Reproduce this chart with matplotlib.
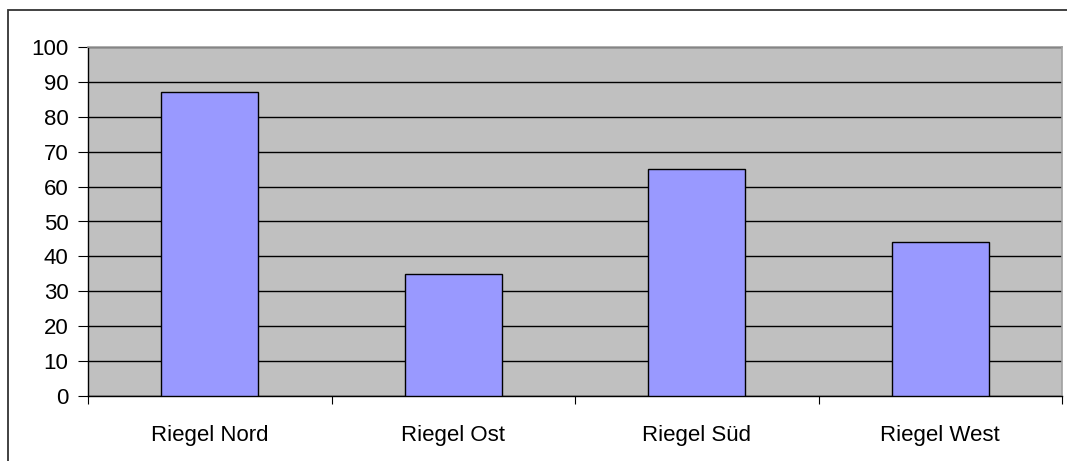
import matplotlib.pyplot as plt
from matplotlib.patches import Rectangle

plt.rcParams['font.family'] = ['Liberation Sans', 'DejaVu Sans']

categories = ["Riegel Nord", "Riegel Ost", "Riegel Süd", "Riegel West"]
values = [87, 35, 65, 44]
y_ticks = [0, 10, 20, 30, 40, 50, 60, 70, 80, 90, 100]

fig = plt.figure(figsize=(10.67, 4.61), dpi=100)
ax = fig.add_axes([88 / 1067, 65 / 461, 974 / 1067, 349 / 461])

# chart frame, runs off the right and bottom edges
fig.patches.append(Rectangle((7.5 / 1067, -0.1), 1.2, 1 - 10.5 / 461 + 0.1,
                             transform=fig.transFigure, fill=False,
                             edgecolor="#333333", linewidth=1.3, zorder=0))

ax.set_facecolor("#C0C0C0")
positions = list(range(len(categories)))
ax.bar(positions, values, width=0.4, color="#9999FF", edgecolor="black",
       linewidth=1, zorder=3)

ax.set_ylim(0, 100)
ax.set_xlim(-0.5, len(categories) - 0.5)
ax.set_yticks(y_ticks)
ax.yaxis.grid(True, color="black", linewidth=1)
ax.set_axisbelow(True)

# major ticks mark the category boundaries, minor ones carry the labels
ax.set_xticks([p - 0.5 for p in positions] + [len(categories) - 0.5])
ax.set_xticklabels([])
ax.set_xticks(positions, minor=True)
ax.set_xticklabels(categories, minor=True)
ax.tick_params(axis="x", which="minor", length=0, pad=21, labelsize=16)
ax.tick_params(axis="x", which="major", length=6, width=0.8)
ax.tick_params(axis="y", length=7, width=0.8, pad=7, labelsize=16)

for side in ("top", "right"):
    ax.spines[side].set_color("#A0A0A0")
    ax.spines[side].set_linewidth(1.2)
for side in ("left", "bottom"):
    ax.spines[side].set_color("black")
    ax.spines[side].set_linewidth(1)

fig.savefig("out.png", dpi=100)
